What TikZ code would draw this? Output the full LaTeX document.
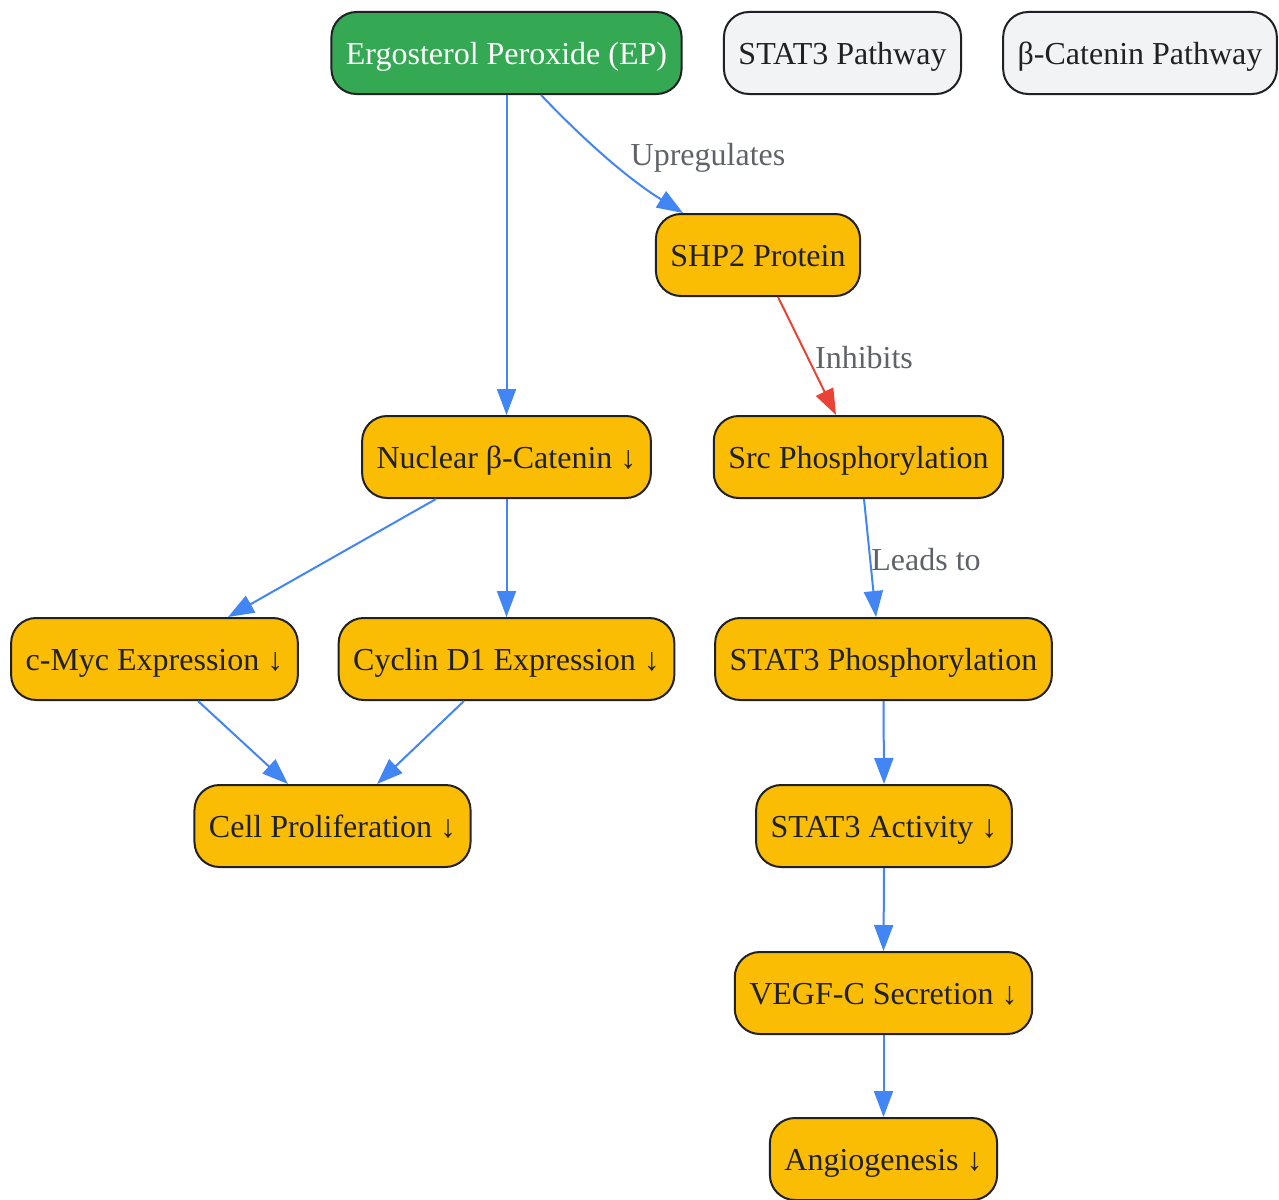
\documentclass[tikz,border=0pt]{standalone}
\usepackage{fontspec}
\setmainfont{Liberation Serif}
\usetikzlibrary{arrows.meta,calc}
\definecolor{epgreen}{HTML}{34A853}
\definecolor{boxyellow}{HTML}{FBBC04}
\definecolor{legendgray}{HTML}{F1F3F4}
\definecolor{edgeblue}{HTML}{4285F4}
\definecolor{edgered}{HTML}{EA4335}
\definecolor{labelgray}{HTML}{5F6368}
\definecolor{txtdark}{HTML}{202124}
\begin{document}
\begin{tikzpicture}[x=1pt,y=-1pt,
  base/.style={draw=txtdark,line width=2pt,rounded corners=25pt,minimum height=82pt,inner xsep=14.5pt,text height=24pt,text depth=1pt,font=\fontsize{32pt}{38pt}\selectfont,text=txtdark},
  proc/.style={base,fill=boxyellow},
  src/.style={base,fill=epgreen,text=white},
  legend/.style={base,fill=legendgray},
  flow/.style={draw=edgeblue,line width=2pt,-{Triangle[length=26pt,width=19pt]}},
  inh/.style={draw=edgered,line width=2pt,-{Triangle[length=26pt,width=19pt]}},
  lbl/.style={text=labelgray,font=\fontsize{32pt}{38pt}\selectfont,inner sep=0pt,text height=23pt,text depth=2pt}
]
\useasboundingbox (0,0) rectangle (1279,1199);
\node[src] (ep) at (506.5,53) {Ergosterol Peroxide (EP)};
\node[legend] (lstat) at (842.5,53) {STAT3 Pathway};
\node[legend] (lcat) at (1140,53) {β-Catenin Pathway};
\node[proc] (shp) at (758,255) {SHP2 Protein};
\node[proc] (nuc) at (506.5,457) {Nuclear β-Catenin ↓};
\node[proc] (srcp) at (858.5,457) {Src Phosphorylation};
\node[proc] (myc) at (154.5,659) {c-Myc Expression ↓};
\node[proc] (cyc) at (506.5,659) {Cyclin D1 Expression ↓};
\node[proc] (stp) at (883.5,659) {STAT3 Phosphorylation};
\node[proc] (cell) at (332.5,826) {Cell Proliferation ↓};
\node[proc] (act) at (884,826) {STAT3 Activity ↓};
\node[proc] (vegf) at (883.5,993) {VEGF-C Secretion ↓};
\node[proc] (ang) at (883.5,1159) {Angiogenesis ↓};

\draw[flow] (ep.south) -- (nuc.north);
\draw[flow] ([xshift=34.5pt]ep.south) .. controls (580,136) and (625,177) .. ([xshift=-75pt]shp.north);
\node[lbl] (lup) at (708,155) {Upregulates};
\draw[inh] ([xshift=20pt]shp.south) -- ([xshift=-22.5pt]srcp.north);
\node[lbl] (linh) at (864,358) {Inhibits};
\draw[flow] ([xshift=5.5pt]srcp.south) -- ([xshift=-7.5pt]stp.north);
\node[lbl] (llead) at (926,560) {Leads to};
\draw[flow] ([xshift=-70.5pt]nuc.south) -- ([xshift=73.5pt]myc.north);
\draw[flow] (nuc.south) -- (cyc.north);
\draw[flow] ([xshift=43.5pt]myc.south) -- ([xshift=-44.5pt]cell.north);
\draw[flow] ([xshift=-42.5pt]cyc.south) -- ([xshift=44.5pt]cell.north);
\draw[flow] (stp.south) -- (act.north);
\draw[flow] (act.south) -- (vegf.north);
\draw[flow] (vegf.south) -- (ang.north);
\end{tikzpicture}
\end{document}
